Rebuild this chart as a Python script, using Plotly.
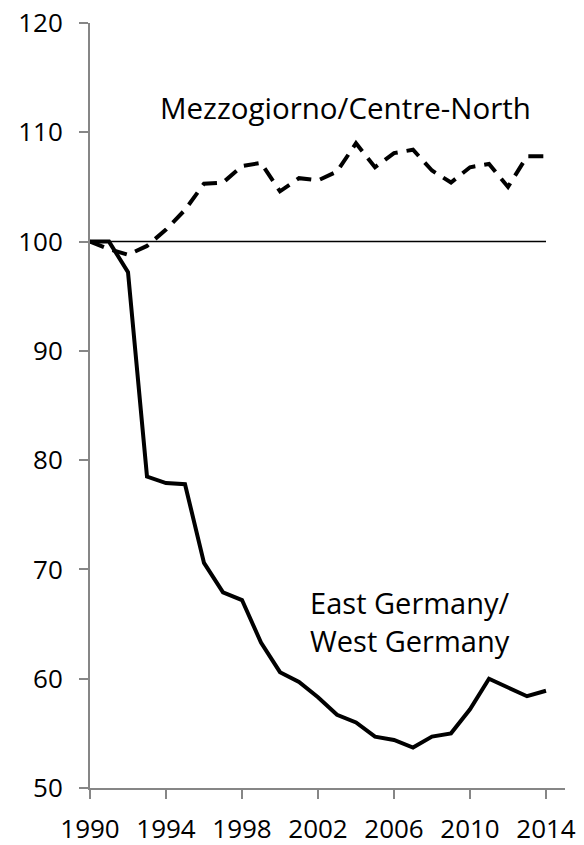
import plotly.graph_objects as go

years = list(range(1990, 2015))
east_west = [100, 100, 97.2, 78.5, 77.9, 77.8, 70.6, 67.9, 67.2, 63.3, 60.6, 59.7,
             58.3, 56.7, 56.0, 54.7, 54.4, 53.7, 54.7, 55.0, 57.2, 60.0, 59.2, 58.4, 58.9]
mezz_cn = [100, 99.3, 98.8, 99.6, 101.1, 102.9, 105.3, 105.4, 106.9, 107.2, 104.6, 105.8,
           105.6, 106.4, 109.0, 106.8, 108.1, 108.4, 106.5, 105.4, 106.8, 107.1, 105.0, 107.8, 107.8]
ref_x = [1990, 2014]
ref_y = [100, 100]
x_ticks = [1990, 1994, 1998, 2002, 2006, 2010, 2014]
y_ticks = [50, 60, 70, 80, 90, 100, 110, 120]

FONT = "Open Sans"
fig = go.Figure()
fig.add_trace(go.Scatter(x=ref_x, y=ref_y, mode="lines",
                         line=dict(color="black", width=1.5), hoverinfo="skip"))
fig.add_trace(go.Scatter(x=years, y=mezz_cn, mode="lines",
                         line=dict(color="black", width=4, dash="15px,9px")))
fig.add_trace(go.Scatter(x=years, y=east_west, mode="lines",
                         line=dict(color="black", width=4)))

fig.add_annotation(x=2003.45, y=112.3, text="Mezzogiorno/Centre-North", showarrow=False,
                   font=dict(family=FONT, size=29.5, color="black"), xanchor="center", yanchor="middle")
fig.add_annotation(x=2006.85, y=65.2, text="East Germany/<br>West Germany", showarrow=False,
                   font=dict(family=FONT, size=29, color="black"), xanchor="center", yanchor="middle",
                   align="center")

fig.update_layout(
    width=584, height=845,
    margin=dict(l=90, r=19, t=23, b=57),
    paper_bgcolor="white", plot_bgcolor="white",
    showlegend=False,
    font=dict(family=FONT, size=26, color="black"),
)
fig.update_xaxes(range=[1990, 2015], tickvals=x_ticks, showgrid=False, zeroline=False,
                 showline=True, linecolor="#868686", linewidth=2, automargin=False,
                 ticks="outside", tickcolor="#868686", tickwidth=2, ticklen=9,
                 ticklabelstandoff=8, ticklabeloverflow="allow",
                 tickfont=dict(family=FONT, size=26, color="black"))
fig.update_yaxes(range=[50, 120], tickvals=y_ticks, showgrid=False, zeroline=False,
                 showline=True, linecolor="#868686", linewidth=2, automargin=False,
                 ticks="outside", tickcolor="#868686", tickwidth=2, ticklen=9,
                 ticklabelstandoff=11, ticklabeloverflow="allow",
                 tickfont=dict(family=FONT, size=26, color="black"))

fig.write_html("out.html", config={"displayModeBar": False},
               post_script="document.body.style.margin='0';document.body.style.overflow='hidden';")
